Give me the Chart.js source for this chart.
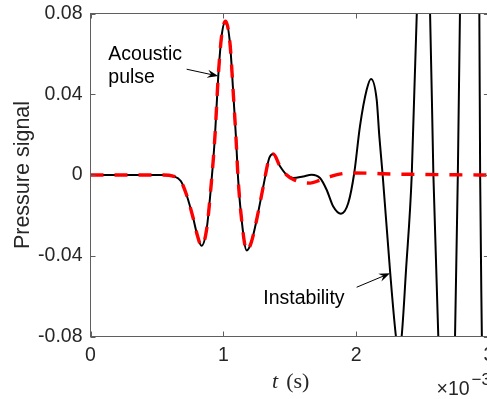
<!DOCTYPE html>
<html><head><meta charset="utf-8">
<script src="https://cdn.jsdelivr.net/npm/chart.js@4.4.1/dist/chart.umd.min.js"></script>
<style>html,body{margin:0;padding:0;overflow:hidden;background:#fff}#wrap{width:496px;height:399px}</style>
</head><body><div id="wrap"><canvas id="c" width="496" height="399"></canvas></div>
<script>
// time in units of 1e-3 s
const signalT = [0, 0.3, 0.55, 0.62, 0.68, 0.723, 0.773, 0.805, 0.836, 0.874, 0.912, 0.937, 0.962, 0.987, 1.017, 1.050, 1.075, 1.095, 1.112, 1.138, 1.176, 1.21, 1.251, 1.301, 1.346, 1.376, 1.427, 1.477, 1.527, 1.602, 1.665, 1.728, 1.778, 1.828, 1.886, 1.941, 1.986, 2.029, 2.080, 2.112, 2.155, 2.175, 2.200, 2.255, 2.300, 2.320, 2.343, 2.376, 2.419, 2.457, 2.505, 2.557, 2.582, 2.619, 2.68, 2.745, 2.766, 2.782, 2.855, 2.928, 2.934, 2.947, 3.0];
const signalP = [0, 0, 0, -0.0005, -0.003, -0.0098, -0.0213, -0.030, -0.0351, -0.0271, -0.0023, 0.0191, 0.0489, 0.0687, 0.0762, 0.0654, 0.0407, 0.0191, -0.0023, -0.0222, -0.0374, -0.0335, -0.0222, -0.0057, 0.0084, 0.0104, 0.0043, 0.0001, -0.0015, -0.0007, 0.0001, -0.0015, -0.0073, -0.0156, -0.0192, -0.0139, 0.001, 0.0241, 0.0423, 0.0476, 0.0373, 0.0191, 0, -0.047, -0.080, -0.088, -0.080, -0.047, 0, 0.080, 0.125, 0.080, 0, -0.080, -0.17, -0.080, 0, 0.080, 0.35, 0.080, 0, -0.080, -0.40];
const pulseT = [0, 0.3, 0.55, 0.62, 0.68, 0.723, 0.773, 0.805, 0.836, 0.874, 0.912, 0.937, 0.962, 0.987, 1.017, 1.050, 1.075, 1.095, 1.112, 1.138, 1.176, 1.21, 1.251, 1.301, 1.346, 1.376, 1.427, 1.477, 1.527, 1.602, 1.654, 1.72, 1.803, 1.85, 1.954, 2.1, 2.2, 2.45, 2.75, 3.0];
const pulseP = [0, 0, 0, -0.0005, -0.003, -0.0098, -0.0213, -0.030, -0.0351, -0.0271, -0.0023, 0.0191, 0.0489, 0.0687, 0.0762, 0.0654, 0.0407, 0.0191, -0.0023, -0.0222, -0.0374, -0.0335, -0.0222, -0.0057, 0.0084, 0.0104, 0.0043, 0.0000, -0.0022, -0.0037, -0.0040, -0.0028, -0.0009, 0.0001, 0.0010, 0.0009, 0.0006, 0.0003, 0.0001, 0];
const xTicks = [0, 1, 2, 3];
const yTicks = [-0.08, -0.04, 0, 0.04, 0.08];
const xTickLabels = ['0', '1', '2', '3'];
const yTickLabels = ['-0.08', '-0.04', '0', '0.04', '0.08'];
const yLabel = 'Pressure signal';
const annotations = [
  {lines: ['Acoustic', 'pulse'], x: 0.134, y: 0.057, from: [0.724, 0.0524], to: [0.962, 0.049]},
  {lines: ['Instability'], x: 1.301, y: -0.064, from: [2.004, -0.0556], to: [2.255, -0.0487]}
];

const SANS = '"Liberation Sans", Arial, Helvetica, sans-serif';
const SERIF = '"Liberation Serif", "Times New Roman", serif';
const pts = (T, P) => T.map((t, i) => ({x: t, y: P[i]}));

function arrow(ctx, x1, y1, x2, y2) {
  ctx.save();
  ctx.strokeStyle = '#000'; ctx.fillStyle = '#000'; ctx.lineWidth = 1;
  const dx = x2 - x1, dy = y2 - y1, L = Math.hypot(dx, dy), ux = dx / L, uy = dy / L;
  const hl = 11, hw = 4.2;
  ctx.beginPath(); ctx.moveTo(x1, y1); ctx.lineTo(x2 - ux * hl * 0.6, y2 - uy * hl * 0.6); ctx.stroke();
  ctx.beginPath();
  ctx.moveTo(x2, y2);
  ctx.lineTo(x2 - ux * hl - uy * hw, y2 - uy * hl + ux * hw);
  ctx.lineTo(x2 - ux * hl * 0.65, y2 - uy * hl * 0.65);
  ctx.lineTo(x2 - ux * hl + uy * hw, y2 - uy * hl - ux * hw);
  ctx.closePath(); ctx.fill();
  ctx.restore();
}

const decor = {
  id: 'decor',
  afterDraw(chart) {
    const ctx = chart.ctx, ca = chart.chartArea, xs = chart.scales.x, ys = chart.scales.y;
    ctx.save();
    ctx.strokeStyle = '#5f5f5f'; ctx.lineWidth = 1;
    ctx.strokeRect(ca.left, ca.top, ca.right - ca.left, ca.bottom - ca.top);
    const tl = 5;
    ctx.beginPath();
    xTicks.forEach(v => {
      const px = Math.round(xs.getPixelForValue(v)) + 0.5;
      ctx.moveTo(px, ca.bottom); ctx.lineTo(px, ca.bottom - tl);
      ctx.moveTo(px, ca.top); ctx.lineTo(px, ca.top + tl);
    });
    yTicks.forEach(v => {
      const py = Math.round(ys.getPixelForValue(v)) + 0.5;
      ctx.moveTo(ca.left, py); ctx.lineTo(ca.left + tl, py);
      ctx.moveTo(ca.right, py); ctx.lineTo(ca.right - tl, py);
    });
    ctx.stroke();
    ctx.fillStyle = '#262626';
    ctx.font = '21.5px ' + SANS;
    ctx.textAlign = 'center'; ctx.textBaseline = 'middle';
    ctx.save(); ctx.translate(23, (ca.top + ca.bottom) / 2); ctx.rotate(-Math.PI / 2);
    ctx.fillText(yLabel, 0, 0); ctx.restore();
    ctx.textAlign = 'left'; ctx.textBaseline = 'alphabetic';
    ctx.font = 'italic 22px ' + SERIF;
    const tW = ctx.measureText('t').width;
    ctx.font = '22px ' + SERIF;
    const sW = ctx.measureText('(s)').width;
    const gap = 8;
    const cx = (ca.left + ca.right) / 2 + 1;
    const x0 = cx - (tW + gap + sW) / 2;
    ctx.font = 'italic 22px ' + SERIF; ctx.fillText('t', x0, 388);
    ctx.font = '22px ' + SERIF; ctx.fillText('(s)', x0 + tW + gap, 388);
    ctx.font = '19.5px ' + SANS;
    ctx.fillText('\u00d710', 436.5, 395);
    const mw = ctx.measureText('\u00d710').width;
    ctx.font = '17px ' + SANS;
    ctx.fillText('\u22123', 436.5 + mw + 2, 385);
    ctx.fillStyle = '#000';
    ctx.font = '19.5px ' + SANS;
    annotations.forEach(a => {
      const ax = xs.getPixelForValue(a.x), ay = ys.getPixelForValue(a.y);
      a.lines.forEach((ln, i) => ctx.fillText(ln, ax, ay + i * 23));
      arrow(ctx, xs.getPixelForValue(a.from[0]), ys.getPixelForValue(a.from[1]),
                 xs.getPixelForValue(a.to[0]), ys.getPixelForValue(a.to[1]));
    });
    ctx.restore();
  }
};

new Chart(document.getElementById('c'), {
  type: 'line',
  data: {datasets: [
    {data: pts(pulseT, pulseP), borderColor: '#ff0000', borderWidth: 3.4, borderDash: [13, 11], pointRadius: 0, cubicInterpolationMode: 'monotone', fill: false, order: 1},
    {data: pts(signalT, signalP), borderColor: '#000000', borderWidth: 2, pointRadius: 0, cubicInterpolationMode: 'monotone', fill: false, order: 2}
  ]},
  options: {
    responsive: false, animation: false, events: [],
    layout: {padding: {top: 13.5, right: 7.1, bottom: 0, left: 0}},
    plugins: {legend: {display: false}, tooltip: {enabled: false}},
    scales: {
      x: {type: 'linear', min: 0, max: 3,
          afterBuildTicks: s => { s.ticks = xTicks.map(v => ({value: v})); },
          afterFit: s => { s.height = 62.5; s.paddingLeft = 0; s.paddingRight = 0; },
          grid: {display: false, drawTicks: false}, border: {display: false},
          ticks: {padding: 7, color: '#262626', font: {family: SANS, size: 19.5}, maxRotation: 0, autoSkip: false,
                  callback: (v) => xTickLabels[xTicks.indexOf(v)]}},
      y: {type: 'linear', min: -0.08, max: 0.08,
          afterBuildTicks: s => { s.ticks = yTicks.map(v => ({value: v})); },
          afterFit: s => { s.width = 90.5; s.paddingTop = 0; s.paddingBottom = 0; },
          grid: {display: false, drawTicks: false}, border: {display: false},
          ticks: {padding: 8, color: '#262626', font: {family: SANS, size: 19.5}, autoSkip: false,
                  callback: (v) => { const i = yTicks.findIndex(t => Math.abs(t - v) < 1e-9); return yTickLabels[i]; }}}
    }
  },
  plugins: [decor]
});
</script></body></html>
